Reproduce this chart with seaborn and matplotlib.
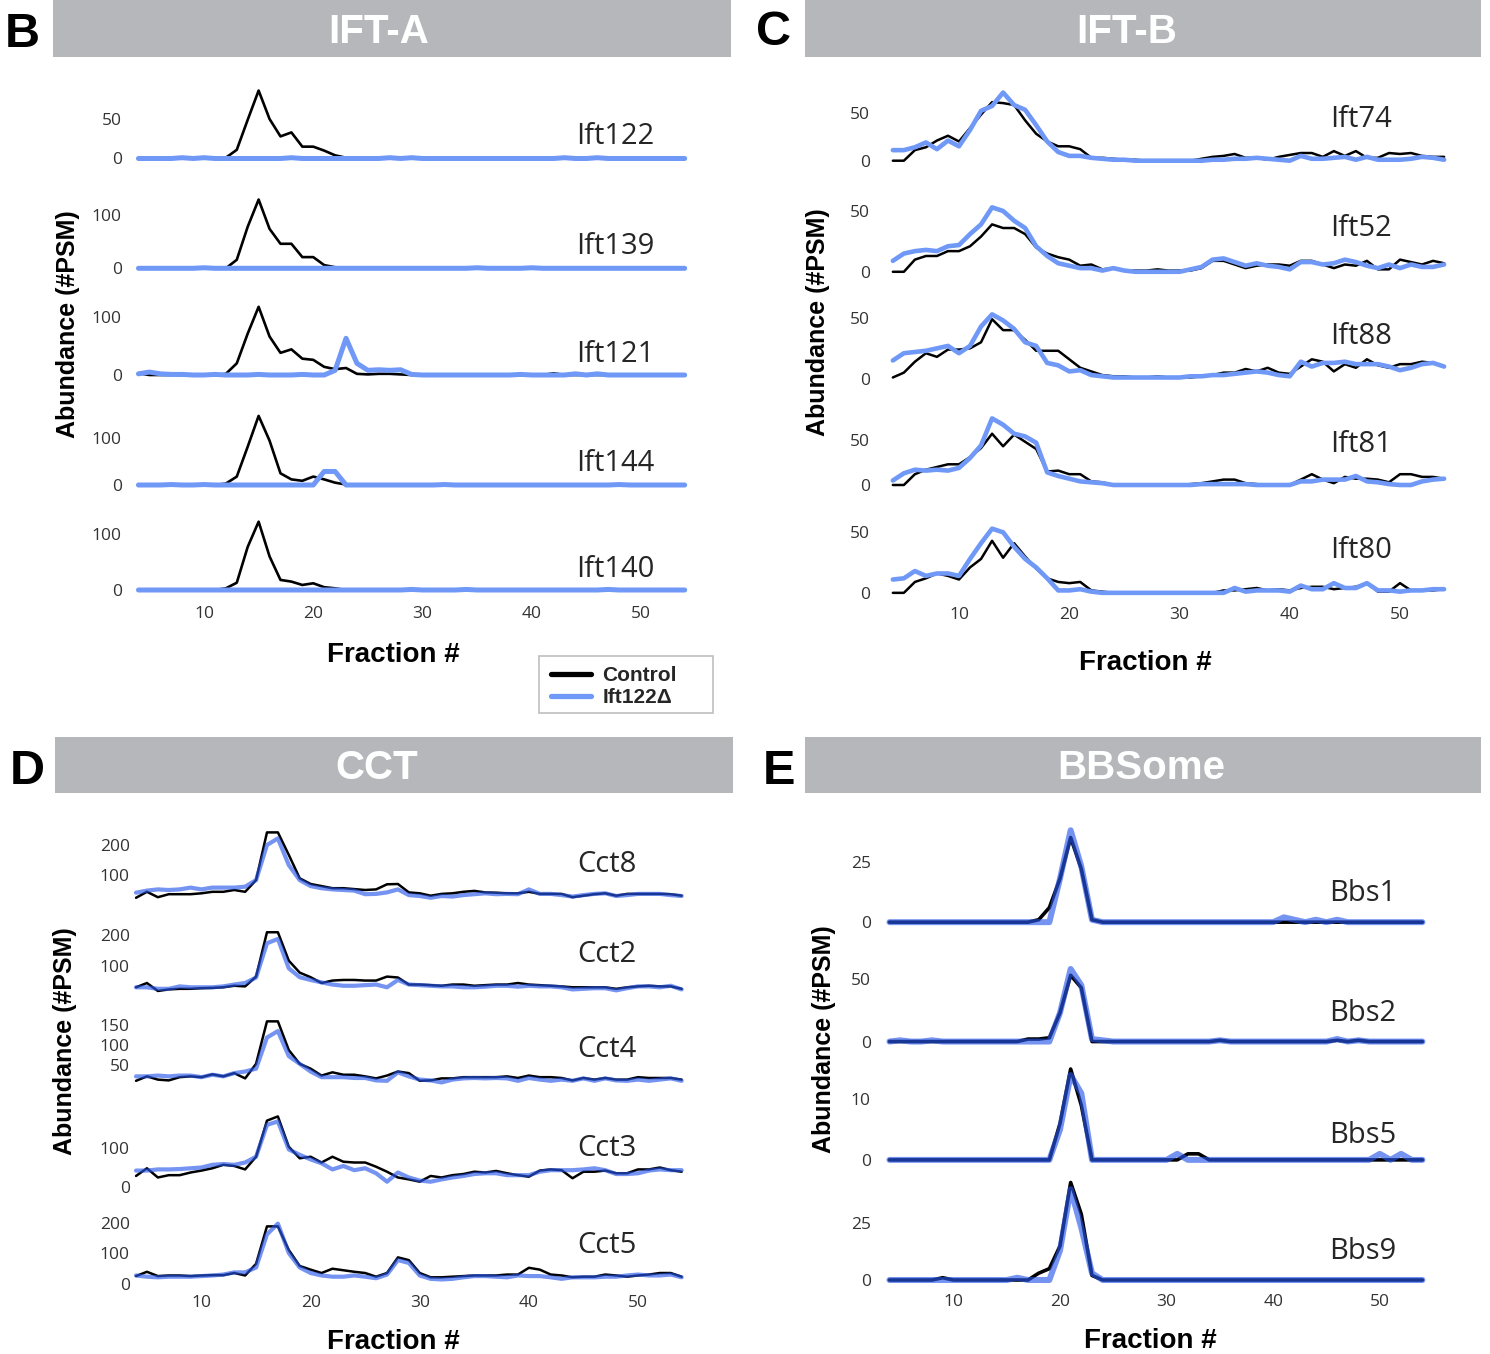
import matplotlib
matplotlib.use("Agg")
import matplotlib.pyplot as plt
import seaborn as sns
import pandas as pd
from matplotlib.lines import Line2D
from matplotlib.patches import Rectangle

# ---------------- data (fractions 4..54) ----------------
fractions = list(range(4, 55))

# Panel B : IFT-A
ift122_ctrl = [0,0,0,0,0,0,0,0,1,11, 49,86,50,28,33,15,15,10,4,1, 0,0,0,0,0,0,0,0,0,0, 0,1,0,0,0,0,0,0,0,0, 0,0,0,0,0,0,0,0,0,0,0]
ift122_ko   = [0,0,0,0,1,0,1,0,0,0, 0,0,0,0,1,0,0,0,0,0, 0,0,0,1,0,1,0,0,0,0, 0,0,0,0,0,0,0,0,0,1, 0,0,1,0,0,0,0,0,0,0,0]
ift139_ctrl = [0,0,0,0,0,0,0,0,0,16, 78,129,74,46,46,21,21,6,2,0, 0,0,0,0,0,0,0,0,0,0, 0,0,0,0,0,0,0,0,0,0, 0,0,0,0,0,0,0,0,0,0,0]
ift139_ko   = [0,0,0,0,0,0,1,0,0,0, 0,0,0,0,0,0,0,0,0,0, 0,0,0,0,0,0,0,0,0,0, 0,1,0,0,0,0,1,0,0,0, 0,0,0,0,0,0,0,0,0,0,0]
ift121_ctrl = [3,0,0,0,0,0,0,0,2,20, 71,117,66,38,44,28,26,14,10,12, 2,1,2,2,1,0,0,0,0,0, 0,0,0,0,0,0,0,0,3,0, 0,0,0,0,0,0,0,0,0,0,0]
ift121_ko   = [2,5,2,1,1,0,0,1,0,0, 0,1,0,0,0,1,0,0,8,63, 20,8,9,8,9,1,0,0,0,0, 0,0,0,0,0,1,0,0,0,0, 2,0,2,0,0,0,0,0,0,0,0]
ift144_ctrl = [0,0,0,0,0,0,0,0,3,18, 82,148,95,25,12,9,18,12,5,1, 0,0,0,0,0,0,0,0,0,0, 0,0,0,0,0,0,0,0,0,0, 0,0,0,0,0,0,0,0,0,0,0]
ift144_ko   = [0,0,0,1,0,0,1,0,0,0, 0,0,0,0,0,0,0,29,29,0, 0,0,0,0,0,0,0,0,1,0, 0,0,0,0,0,0,0,0,0,0, 0,0,0,0,1,0,0,0,0,0,0]
ift140_ctrl = [0,0,0,0,0,0,0,0,3,13, 77,122,60,18,15,9,12,5,3,0, 0,0,0,0,0,0,0,0,0,0, 0,0,0,0,0,0,0,0,0,0, 0,0,0,0,0,0,0,0,0,0,0]
ift140_ko   = [0,0,0,0,0,0,0,0,0,0, 0,0,0,0,0,0,0,0,0,0, 0,0,0,0,0,1,0,0,0,0, 1,0,0,0,0,0,0,0,0,0, 0,0,0,1,0,0,0,0,0,0,0]

# Panel C : IFT-B
ift74_ctrl = [0,0,11,14,21,26,20,34,48,61, 60,58,42,28,20,15,15,12,3,3, 2,1,1,0,0,0,0,0,2,4, 5,7,3,3,1,4,6,8,8,4, 10,5,10,3,3,8,7,8,5,4,4]
ift74_ko   = [11,11,14,19,12,21,15,32,52,57, 71,58,53,37,20,9,5,5,3,2, 1,1,0,0,0,0,0,0,0,1, 1,2,2,3,2,1,0,5,2,2, 3,4,1,4,1,1,1,2,4,3,1]
ift52_ctrl = [0,0,10,13,13,17,17,21,29,39, 36,36,31,20,15,12,10,5,6,2, 3,1,1,1,2,1,1,1,3,9, 9,6,3,5,6,6,5,9,9,6, 3,6,5,9,2,2,10,8,6,9,7]
ift52_ko   = [9,15,17,18,17,21,22,31,39,53, 50,42,36,21,13,7,5,3,3,1, 3,1,0,0,0,0,0,2,4,10, 11,8,5,7,5,4,2,8,8,6, 7,10,8,5,3,6,3,6,4,4,6]
ift88_ctrl = [1,5,14,21,18,24,24,25,30,49, 40,40,32,23,23,23,16,9,6,3, 2,2,1,1,2,1,1,1,2,3, 5,5,8,6,9,5,4,10,16,14, 6,12,9,16,11,9,12,12,14,13,10]
ift88_ko   = [15,21,22,23,25,27,21,27,43,53, 48,41,30,27,13,11,6,7,3,2, 1,1,1,1,1,1,1,2,2,3, 3,4,5,6,5,3,2,14,10,13, 13,14,12,12,12,10,7,9,12,13,10]
ift81_ctrl = [0,0,12,17,20,23,23,31,41,57, 43,56,48,40,15,16,12,12,4,3, 0,0,0,0,0,0,0,1,2,4, 6,6,2,1,0,0,0,6,12,6, 2,9,7,7,6,3,12,12,9,9,7]
ift81_ko   = [5,13,17,16,17,16,19,30,44,74, 67,57,54,47,14,10,7,4,3,2, 0,0,0,0,0,0,0,0,1,1, 1,1,1,0,0,0,0,4,4,6, 6,6,10,4,3,1,0,0,4,6,7]
ift80_ctrl = [0,0,9,12,16,14,11,21,28,43, 29,41,30,20,12,9,8,9,2,1, 0,0,0,0,0,0,0,0,0,0, 2,2,3,4,2,3,2,4,5,5, 3,4,5,8,1,1,8,2,2,2,3]
ift80_ko   = [11,12,18,14,16,16,14,28,41,53, 50,38,28,21,12,2,2,3,1,0, 0,0,0,0,0,0,0,0,0,0, 0,4,1,2,2,2,1,6,3,3, 8,4,4,8,2,2,1,2,2,3,3]

# Panel D : CCT
cct8_ctrl = [24,44,26,36,36,36,39,44,44,50, 44,83,242,242,167,89,70,63,56,56, 53,50,52,69,70,42,39,31,37,39, 44,47,42,41,39,39,44,37,37,37, 26,31,36,39,31,37,37,37,37,36,31]
cct8_ko   = [41,48,52,50,52,58,52,58,58,58, 61,83,200,222,133,83,63,56,52,50, 48,36,37,42,52,33,30,24,30,28, 33,36,39,36,37,36,52,37,37,33, 28,33,37,39,30,33,37,37,37,33,30]
cct2_ctrl = [30,44,18,23,25,25,27,28,30,35, 33,65,210,210,117,78,63,44,52,54, 54,52,52,65,62,39,39,37,35,39, 39,35,37,39,39,44,39,37,35,33, 30,30,30,30,25,30,33,35,33,33,25]
cct2_ko   = [30,30,25,25,33,30,30,30,33,39, 44,62,174,188,92,63,54,46,39,35, 35,37,39,30,54,39,37,35,33,33, 30,30,32,35,35,32,35,33,33,30, 23,25,27,27,20,27,33,33,30,35,23]
cct4_ctrl = [12,23,15,13,21,23,21,28,23,31, 18,54,159,159,88,54,42,25,33,27, 27,23,18,25,35,31,12,13,18,18, 21,21,21,21,23,19,25,21,21,19, 13,19,15,19,15,15,21,19,19,19,15]
cct4_ko   = [23,23,25,23,25,25,21,27,23,31, 35,42,119,135,73,54,35,21,21,21, 19,19,13,12,33,23,15,13,8,15, 18,19,18,19,18,12,19,15,12,15, 12,18,12,18,13,12,15,12,15,18,12]
cct3_ctrl = [28,48,24,30,30,37,42,48,57,54, 45,78,172,183,104,74,78,63,78,65, 63,63,52,39,24,19,13,28,24,30, 33,39,37,41,35,30,26,42,45,43, 22,39,39,42,35,35,45,45,50,43,39]
cct3_ko   = [42,42,45,45,46,48,50,57,59,57, 63,78,161,170,97,83,71,61,45,54, 43,48,35,13,37,24,16,13,19,24, 28,33,35,35,30,30,30,39,43,43, 43,45,48,43,33,33,35,42,45,43,43]
cct5_ctrl = [26,40,26,28,28,26,28,29,29,36, 28,66,188,188,111,59,47,36,50,45, 40,36,24,36,87,78,36,22,22,24, 26,28,28,28,31,31,53,47,31,28, 22,24,24,31,28,24,28,31,36,36,24]
cct5_ko   = [28,24,22,24,24,24,26,28,31,38, 38,54,162,197,101,54,36,28,24,24, 28,24,19,31,78,69,28,17,15,17, 22,26,26,24,22,28,26,26,22,17, 22,22,22,24,24,28,31,28,28,31,22]

# Panel E : BBSome
bbs1_ctrl = [0,0,0,0,0,0,0,0,0,0, 0,0,0,0,1,6,18,35,22,1, 0,0,0,0,0,0,0,0,0,0, 0,0,0,0,0,0,0,0,0,0, 0,0,0,0,0,0,0,0,0,0,0]
bbs1_ko   = [0,0,0,0,0,0,0,0,0,0, 0,0,0,0,0,0,18,38,23,1, 0,0,0,0,0,0,0,0,0,0, 0,0,0,0,0,0,0,2,1,0, 1,0,1,0,0,0,0,0,0,0,0]
bbs2_ctrl = [0,0,0,0,0,0,0,0,0,0, 0,0,0,2,2,3,23,53,43,0, 0,0,0,0,0,0,0,0,0,0, 0,1,0,0,0,0,0,0,0,0, 0,0,1,0,1,0,0,0,0,0,0]
bbs2_ko   = [0,1,0,0,1,0,0,0,0,0, 0,0,0,0,0,0,23,58,45,2, 1,0,0,0,0,0,0,0,0,0, 0,1,0,0,0,0,0,0,0,0, 0,0,2,0,1,0,0,0,0,0,0]
bbs5_ctrl = [0,0,0,0,0,0,0,0,0,0, 0,0,0,0,0,0,6,15,9,0, 0,0,0,0,0,0,0,0,1,1, 0,0,0,0,0,0,0,0,0,0, 0,0,0,0,0,0,0,0,0,0,0]
bbs5_ko   = [0,0,0,0,0,0,0,0,0,0, 0,0,0,0,0,0,5,14,11,0, 0,0,0,0,0,0,0,1,0,0, 0,0,0,0,0,0,0,0,0,0, 0,0,0,0,0,0,1,0,1,0,0]
bbs9_ctrl = [0,0,0,0,0,1,0,0,0,0, 0,0,0,0,3,5,15,43,29,2, 0,0,0,0,0,0,0,0,0,0, 0,0,0,0,0,0,0,0,0,0, 0,0,0,0,0,0,0,0,0,0,0]
bbs9_ko   = [0,0,0,0,0,0,0,0,0,0, 0,0,1,0,0,0,13,40,23,3, 0,0,0,0,0,0,0,0,0,0, 0,0,0,0,0,0,0,0,0,0, 0,0,0,0,0,0,0,0,0,0,0]

x_ticks = [10, 20, 30, 40, 50]
conditions = ["Control", "Ift122\u0394"]

# ---------------- styling / layout ----------------
W, H = 1490, 1354
sns.set_theme(style="white")
plt.rcParams["font.family"] = ["Open Sans", "DejaVu Sans"]
BOLD = ["Liberation Sans", "DejaVu Sans"]
BLUE = "#6f98f7"
BLUE_T = "#2756ea"
HEADER = "#b6b7ba"
TICKC = "#333333"

fig = plt.figure(figsize=(W / 100, H / 100), dpi=100)
fig.patch.set_facecolor("white")

def fx(px):
    return px / W

def fy(py):
    return 1 - py / H

XMIN, XMAX = 3.5, 54.5

panels = [
    dict(letter="B", title="IFT-A", header=(53, 731, 0, 57), title_x=379, letter_xy=(5, 47),
         px10=204, px50=641, ypad=8.1, xpad=4.3, lw_ko=3.6, lw_c=1.9, overlay=False,
         xlabel=(393, 661.7), ylabel=(68, 324), glx=576,
         rows=[("Ift122", ift122_ctrl, ift122_ko, 158.5, 119, 50, [0, 50], 144),
               ("Ift139", ift139_ctrl, ift139_ko, 268.3, 215, 100, [0, 100], 254),
               ("Ift121", ift121_ctrl, ift121_ko, 375, 316.7, 100, [0, 100], 361.7),
               ("Ift144", ift144_ctrl, ift144_ko, 485, 438.3, 100, [0, 100], 470.7),
               ("Ift140", ift140_ctrl, ift140_ko, 590, 534, 100, [0, 100], 576.7)]),
    dict(letter="C", title="IFT-B", header=(805, 1481, 0, 57), title_x=1127, letter_xy=(756, 45),
         px10=959, px50=1400, ypad=12.5, xpad=3.2, lw_ko=3.3, lw_c=1.8, overlay=False,
         xlabel=(1145, 670), ylabel=(818, 322), glx=1330,
         rows=[("Ift74", ift74_ctrl, ift74_ko, 160.7, 112.7, 50, [0, 50], 127.3),
               ("Ift52", ift52_ctrl, ift52_ko, 271, 205, 50, [0, 50], 235.7),
               ("Ift88", ift88_ctrl, ift88_ko, 378, 312.7, 50, [0, 50], 344),
               ("Ift81", ift81_ctrl, ift81_ko, 485, 440, 50, [0, 50], 452.3),
               ("Ift80", ift80_ctrl, ift80_ko, 592.3, 528.3, 50, [0, 50], 557.7)]),
    dict(letter="D", title="CCT", header=(55, 733, 737, 793), title_x=377, letter_xy=(10, 784),
         px10=201.5, px50=638, ypad=0.5, xpad=1.4, lw_ko=3.0, lw_c=1.8, overlay=True,
         xlabel=(393, 1349), ylabel=(65, 1041), glx=577,
         rows=[("Cct8", cct8_ctrl, cct8_ko, 905, 845, 200, [100, 200], 871.7),
               ("Cct2", cct2_ctrl, cct2_ko, 995.3, 926, 200, [100, 200], 961.7),
               ("Cct4", cct4_ctrl, cct4_ko, 1085, 1020, 150, [50, 100, 150], 1056.7),
               ("Cct3", cct3_ctrl, cct3_ko, 1186.7, 1148.3, 100, [0, 100], 1156),
               ("Cct5", cct5_ctrl, cct5_ko, 1282.7, 1211.7, 200, [0, 100, 200], 1253.3)]),
    dict(letter="E", title="BBSome", header=(805, 1481, 737, 793), title_x=1141, letter_xy=(763, 784),
         px10=953.4, px50=1379.8, ypad=9.7, xpad=2.8, lw_ko=4.3, lw_c=2.6, overlay=True,
         xlabel=(1150, 1348), ylabel=(824, 1039), glx=1329,
         rows=[("Bbs1", bbs1_ctrl, bbs1_ko, 921.7, 858.3, 25, [0, 25], 900.7),
               ("Bbs2", bbs2_ctrl, bbs2_ko, 1039, 955, 50, [0, 50], 1020.7),
               ("Bbs5", bbs5_ctrl, bbs5_ko, 1159.3, 1095, 10, [0, 10], 1142.7),
               ("Bbs9", bbs9_ctrl, bbs9_ko, 1280, 1223.3, 25, [0, 25], 1259.3)]),
]

for p in panels:
    # header bar and texts
    x0, x1, y0h, y1h = p["header"]
    fig.patches.append(Rectangle((fx(x0), fy(y1h)), fx(x1) - fx(x0), fy(y0h) - fy(y1h),
                                 transform=fig.transFigure, facecolor=HEADER, edgecolor="none"))
    fig.text(fx(p["title_x"]), fy((y0h + y1h) / 2 + 14.3), p["title"], ha="center", va="baseline",
             color="white", fontsize=29, fontweight="bold", family=BOLD)
    fig.text(fx(p["letter_xy"][0]), fy(p["letter_xy"][1]), p["letter"], ha="left", va="baseline",
             color="black", fontsize=35, fontweight="bold", family=BOLD)

    ppf = (p["px50"] - p["px10"]) / 40.0
    left = p["px10"] + (XMIN - 10) * ppf
    right = p["px10"] + (XMAX - 10) * ppf
    nrows = len(p["rows"])
    for i, (gene, ctrl, ko, base, tick_px, tick_val, yticks, gl_base) in enumerate(p["rows"]):
        ppu = (base - tick_px) / tick_val
        top, bottom = base - 60, base + 10
        ax = fig.add_axes([fx(left), fy(bottom), fx(right) - fx(left), fy(top) - fy(bottom)])
        ax.set_facecolor("none")
        df = pd.DataFrame({"Fraction": fractions * 2,
                           "PSM": list(ctrl) + list(ko),
                           "Condition": [conditions[0]] * len(fractions) + [conditions[1]] * len(fractions)})
        dc = df[df["Condition"] == conditions[0]]
        dk = df[df["Condition"] == conditions[1]]
        sns.lineplot(data=dc, x="Fraction", y="PSM", color="black", lw=p["lw_c"], ax=ax,
                     errorbar=None, legend=False, clip_on=False, zorder=2,
                     solid_capstyle="round", solid_joinstyle="round")
        if p["overlay"]:
            sns.lineplot(data=dk, x="Fraction", y="PSM", color=BLUE_T, alpha=0.64, lw=p["lw_ko"], ax=ax,
                         errorbar=None, legend=False, clip_on=False, zorder=3,
                         solid_capstyle="round", solid_joinstyle="round")
        else:
            sns.lineplot(data=dk, x="Fraction", y="PSM", color=BLUE, lw=p["lw_ko"], ax=ax,
                         errorbar=None, legend=False, clip_on=False, zorder=3,
                         solid_capstyle="round", solid_joinstyle="round")
        ax.set_xlim(XMIN, XMAX)
        ax.set_ylim(-(bottom - base) / ppu, (base - top) / ppu)
        ax.set_yticks(yticks)
        ax.set_yticklabels([str(v) for v in yticks])
        ax.tick_params(axis="y", length=0, pad=p["ypad"], labelsize=12.5, labelcolor=TICKC)
        if i == nrows - 1:
            ax.set_xticks(x_ticks)
            ax.set_xticklabels([str(v) for v in x_ticks])
            ax.tick_params(axis="x", length=0, pad=p["xpad"], labelsize=12.5, labelcolor=TICKC)
        else:
            ax.set_xticks([])
        ax.set_xlabel("")
        ax.set_ylabel("")
        sns.despine(ax=ax, left=True, bottom=True)
        fig.text(fx(p["glx"]), fy(gl_base), gene, ha="left", va="baseline",
                 fontsize=21, color="#262626")

    fig.text(fx(p["xlabel"][0]), fy(p["xlabel"][1]), "Fraction #", ha="center", va="baseline",
             fontsize=20, fontweight="bold", family=BOLD, color="black")
    fig.text(fx(p["ylabel"][0]), fy(p["ylabel"][1]), "Abundance (#PSM)", ha="center", va="center",
             rotation=90, fontsize=18, fontweight="bold", family=BOLD, color="black")

# legend
fig.patches.append(Rectangle((fx(539), fy(713)), fx(713) - fx(539), fy(656) - fy(713),
                             transform=fig.transFigure, facecolor="white", edgecolor="#bfbfbf", lw=1.2))
handles = [Line2D([], [], color="black", lw=3.8, solid_capstyle="round"),
           Line2D([], [], color=BLUE, lw=3.8, solid_capstyle="round")]
fig.legend(handles, conditions, loc="center left", bbox_to_anchor=(fx(547), fy(686.5)),
           frameon=False, prop=dict(family=BOLD, weight="bold", size=15),
           handlelength=1.9, handletextpad=0.55, labelspacing=0.15, borderpad=0.2, borderaxespad=0)

fig.savefig("out.png", dpi=100, facecolor="white")
